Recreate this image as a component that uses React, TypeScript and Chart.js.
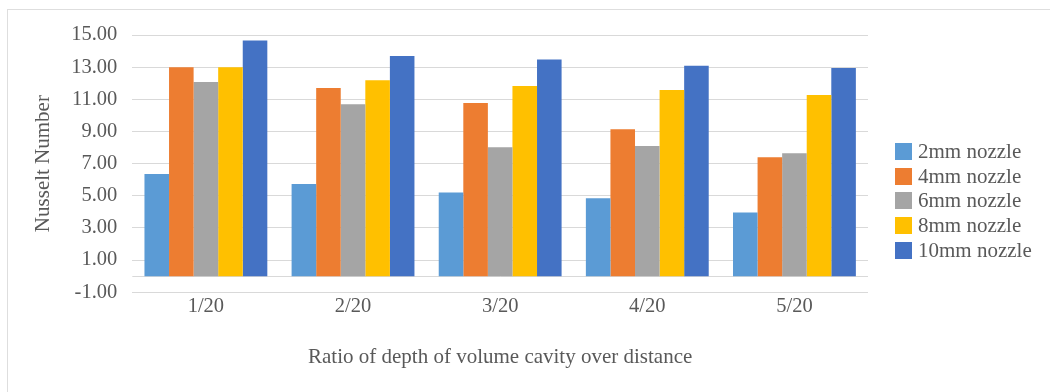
import React, { useEffect, useRef } from "react";
import { Chart, registerables } from "chart.js";

Chart.register(...registerables);

// Cavity depth ratios on the x axis
const categories = ["1/20", "2/20", "3/20", "4/20", "5/20"];

// Nusselt number per nozzle diameter
const nozzle2mm = [6.35, 5.73, 5.2, 4.85, 3.96];
const nozzle4mm = [13.0, 11.7, 10.77, 9.13, 7.39];
const nozzle6mm = [12.08, 10.69, 8.01, 8.09, 7.64];
const nozzle8mm = [13.0, 12.19, 11.83, 11.58, 11.26];
const nozzle10mm = [14.66, 13.69, 13.48, 13.08, 12.95];

const seriesLabels = ["2mm nozzle", "4mm nozzle", "6mm nozzle", "8mm nozzle", "10mm nozzle"];
const seriesValues = [nozzle2mm, nozzle4mm, nozzle6mm, nozzle8mm, nozzle10mm];
const seriesColors = ["#5B9BD5", "#ED7D31", "#A5A5A5", "#FFC000", "#4472C4"];

// Value-axis tick positions
const yTickValues = [-1, 1, 3, 5, 7, 9, 11, 13, 15];

const FONT = '"Liberation Serif", "Times New Roman", serif';
const TEXT = "#595959";
const GRID = "#D9D9D9";

// Horizontal line at zero where the bars start
const zeroLine = {
  id: "zeroLine",
  beforeDatasetsDraw(chart: any) {
    const { ctx, chartArea, scales } = chart;
    const y = Math.round(scales.y.getPixelForValue(0)) + 0.5;
    ctx.save();
    ctx.strokeStyle = GRID;
    ctx.lineWidth = 1;
    ctx.beginPath();
    ctx.moveTo(chartArea.left, y);
    ctx.lineTo(chartArea.right, y);
    ctx.stroke();
    ctx.restore();
  },
};

export default function App() {
  const canvasRef = useRef<HTMLCanvasElement | null>(null);

  useEffect(() => {
    if (!canvasRef.current) return;
    const chart = new Chart(canvasRef.current, {
      type: "bar",
      data: {
        labels: categories,
        datasets: seriesLabels.map((label, i) => ({
          label,
          data: seriesValues[i],
          backgroundColor: seriesColors[i],
          borderWidth: 0,
          barPercentage: 1,
          categoryPercentage: 0.835,
        })),
      },
      options: {
        responsive: false,
        animation: false,
        devicePixelRatio: 1,
        layout: { padding: { left: 0, right: 182, top: 35, bottom: 0 } },
        plugins: {
          legend: { display: false },
          tooltip: { enabled: false },
        },
        scales: {
          x: {
            grid: { display: false, drawTicks: false },
            border: { display: false },
            ticks: { color: TEXT, font: { family: FONT, size: 20.5 }, padding: 2 },
            title: {
              display: true,
              text: "Ratio of depth of volume cavity over distance",
              color: TEXT,
              font: { family: FONT, size: 21 },
              padding: { top: 24, bottom: 22 },
            },
          },
          y: {
            min: -1,
            max: 15,
            afterBuildTicks: (axis: any) => {
              axis.ticks = yTickValues.map((v) => ({ value: v }));
            },
            grid: { color: GRID, lineWidth: 1, drawTicks: false },
            border: { display: false },
            ticks: {
              color: TEXT,
              font: { family: FONT, size: 20.5 },
              padding: 15,
              callback: (v: any) => Number(v).toFixed(2),
            },
            title: {
              display: true,
              text: "Nusselt Number",
              color: TEXT,
              font: { family: FONT, size: 21 },
              padding: { top: 31, bottom: 0 },
            },
          },
        },
      },
      plugins: [zeroLine],
    });
    return () => chart.destroy();
  }, []);

  return (
    <div
      style={{
        position: "fixed",
        left: 0,
        top: 0,
        width: 1050,
        height: 392,
        background: "#fff",
        overflow: "hidden",
      }}
    >
      <div
        style={{
          position: "absolute",
          left: 7,
          top: 9,
          right: 0,
          bottom: -2,
          borderLeft: "1px solid #DEDEDE",
          borderTop: "1px solid #DEDEDE",
        }}
      />
      <canvas ref={canvasRef} width={1050} height={392} style={{ position: "absolute", left: 0, top: 0 }} />
      <div
        style={{
          position: "absolute",
          left: 895,
          top: 139,
          fontFamily: FONT,
          fontSize: 21,
          color: TEXT,
          lineHeight: "24.7px",
        }}
      >
        {seriesLabels.map((label, i) => (
          <div key={label} style={{ display: "flex", alignItems: "center", height: 24.7, whiteSpace: "nowrap" }}>
            <span
              style={{
                display: "inline-block",
                width: 17,
                height: 17,
                background: seriesColors[i],
                marginRight: 6,
              }}
            />
            {label}
          </div>
        ))}
      </div>
    </div>
  );
}
